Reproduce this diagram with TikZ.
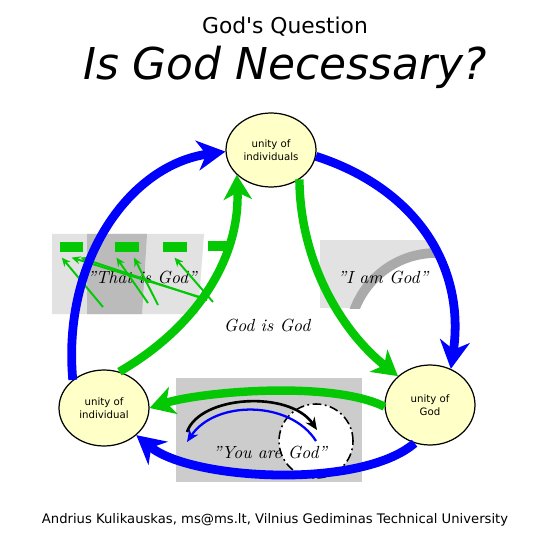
\documentclass[tikz,border=0pt]{standalone}
\usepackage{fontspec}
\newfontfamily\dejavu[ItalicFont={DejaVu Sans Oblique}]{DejaVu Sans}
\usetikzlibrary{positioning,shapes.geometric,arrows.meta}

\definecolor{bigblue}{RGB}{0,0,255}
\definecolor{biggreen}{RGB}{5,200,5}
\definecolor{unityfill}{RGB}{255,255,200}
\definecolor{lightbox}{RGB}{226,226,226}
\definecolor{darkbox}{RGB}{187,187,187}
\definecolor{youbox}{RGB}{204,204,204}
\definecolor{arcgray}{RGB}{170,170,170}

\tikzset{
  unity/.style={ellipse, draw, line width=0.7pt, fill=unityfill, minimum width=1.8cm,
    minimum height=1.52cm, inner sep=0pt, align=center,
    font=\dejavu\fontsize{5.8}{7.4}\selectfont},
  bluearc/.style={line width=5pt, bigblue, -{Stealth[length=16pt,width=17pt,inset=5pt]}},
  greenarc/.style={line width=4.8pt, biggreen, -{Stealth[length=14pt,width=16pt,inset=4pt]}},
  thinarrow/.style={line width=1.1pt, biggreen, -{Stealth[length=5pt,width=4.5pt]}},
  tag/.style={fill=biggreen, minimum width=0.48cm, minimum height=0.2cm, inner sep=0pt},
  quote/.style={anchor=base, font=\itshape},
}

\begin{document}
\begin{tikzpicture}[x=0.02cm, y=-0.02cm]
    \fill[white] (0,0) rectangle (532,550);
    \useasboundingbox (0,0) rectangle (532,550);

    % Title
    \node[anchor=base, font=\dejavu\fontsize{12.4}{15}\selectfont] (subtitle) at (285,34) {God's Question};
    \node[anchor=base, font=\dejavu\itshape\fontsize{25}{30}\selectfont] (title) at (285,80) {Is God Necessary?};

    % Unities
    \node[unity, minimum height=1.48cm] (indivs) at (271,150) {unity of\\individuals};
    \node[unity] (indiv) at (104,408) {unity of\\individual};
    \node[unity, minimum height=1.6cm] (god) at (430,405) {unity of\\God};

    % "That is God" panels
    \fill[lightbox] (52,234) -- (204,234) -- (198,314) -- (52,314) -- cycle;
    \fill[darkbox] (87,234) -- (147,234) -- (142,314) -- (87,314) -- cycle;
    \node[quote] (thatgod) at (142,283) {''That is God''};
    \node[tag] (t1) at (71.5,247) {};
    \node[tag] (t2) at (127,247) {};
    \node[tag] (t3) at (174.5,247) {};
    \node[tag] (t4) at (220,246) {};
    \coordinate (p1) at (103,307);
    \coordinate (p2) at (148,303);
    \coordinate (p3) at (158,305);
    \coordinate (p4) at (203,298);
    \coordinate (p5) at (207,300);
    \coordinate (p6) at (213,302);
    \draw[thinarrow] (p1) -- ([xshift=1.5pt,yshift=-3pt]t1.south west);
    \draw[thinarrow] (p4) -- ([yshift=-3pt]t1.south);
    \draw[thinarrow] (p5) -- ([xshift=-2pt,yshift=-3pt]t1.south east);
    \draw[thinarrow] (p2) -- ([xshift=1pt,yshift=-3pt]t2.south west);
    \draw[thinarrow] (p3) -- ([xshift=-3pt,yshift=-3pt]t2.south east);
    \draw[thinarrow] (p6) -- ([yshift=-3pt]t3.south);

    % "I am God" panel
    \fill[lightbox] (320,240) rectangle (436,308);
    \begin{scope}
        \clip (320,240) rectangle (436,308);
        \fill[white] (436,340) circle[radius=1.74cm];
        \draw[arcgray, line width=5.5pt] (436,340) circle[radius=1.74cm];
    \end{scope}
    \node[quote] (iamgod) at (383,283) {''I am God''};

    % "You are God" panel
    \fill[youbox] (176,378) rectangle (362,482);
    \node[circle, draw, fill=white, line width=0.9pt, dash pattern=on 5pt off 2pt on 1pt off 2pt,
      minimum size=1.48cm] (lens) at (316,441) {};
    \coordinate (youL) at (187,432);
    \coordinate (youR) at (317,430);
    \coordinate (blueL) at (187,442);
    \draw[line width=1.5pt, -{Stealth[length=7pt,width=6pt]}] (youL) .. controls (200,395) and (290,390) .. (youR);
    \draw[line width=1.3pt, bigblue, -{Stealth[length=7pt,width=6pt]}] (lens.center) .. controls (290,400) and (215,400) .. (blueL);
    \node[quote] (yougod) at (270,458) {''You are God''};

    \node[quote] (godgod) at (267,331) {God is God};

    % Outer cycle
    \draw[bluearc] (indiv.138) .. controls (62,260) and (130,165) .. (indivs.182);
    \draw[bluearc] (indivs.-8) .. controls (420,190) and (465,270) .. (god.60);
    \draw[bluearc] (god.248) .. controls (360,490) and (190,480) .. (indiv.-40);

    % Inner cycle
    \draw[greenarc] (indiv.67) .. controls (200,325) and (240,255) .. (indivs.216);
    \draw[greenarc] (indivs.-46) .. controls (300,260) and (340,330) .. (god.138);
    \draw[greenarc] (god.182) .. controls (330,380) and (200,392) .. (indiv.east);

    % Credit
    \node[anchor=base, font=\dejavu\fontsize{7.5}{9}\selectfont] (credit) at (275,523)
      {Andrius Kulikauskas, ms@ms.lt, Vilnius Gediminas Technical University};
\end{tikzpicture}
\end{document}
